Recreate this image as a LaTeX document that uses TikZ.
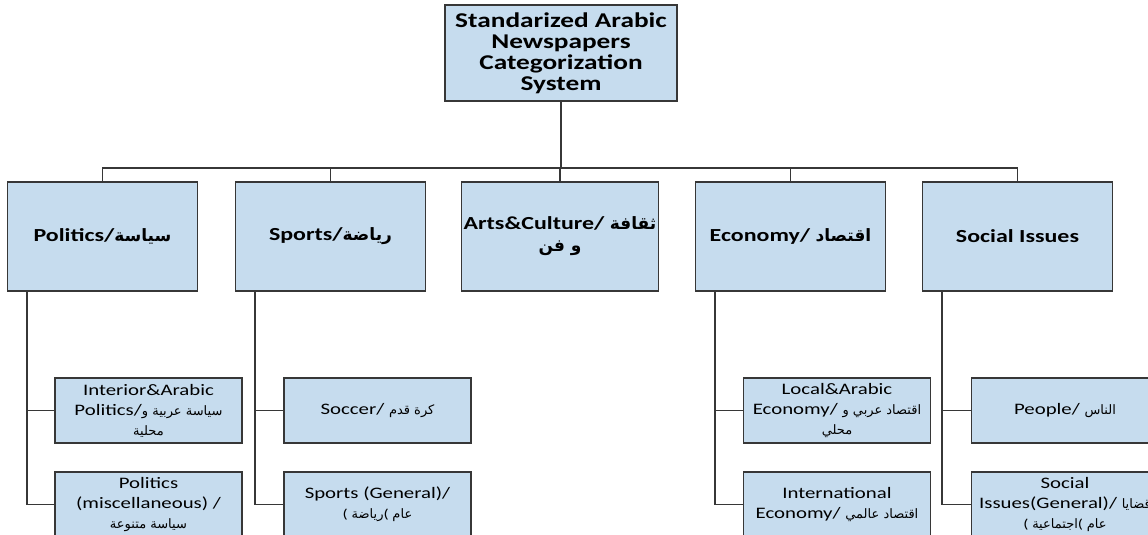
\documentclass[tikz,border=0pt]{standalone}
\usepackage{fontspec}
\setmainfont{Carlito}[FakeStretch=1.3]
\newfontfamily\arabicfont[Script=Arabic]{DejaVu Sans}
\TeXXeTstate=1
\newcommand{\arb}[2][6.5]{{\arabicfont\fontsize{#1}{10}\selectfont\beginR #2\endR}}
\definecolor{boxblue}{RGB}{198,220,238}
\definecolor{linegray}{RGB}{55,55,55}

\begin{document}
\begin{tikzpicture}[x=0.5pt,y=-0.5pt,
	box/.style={draw=linegray,line width=0.7pt,fill=boxblue,align=center,inner sep=1pt},
	rootbox/.style={box,minimum width=116pt,minimum height=48pt,font=\fontsize{10.5}{10.5}\selectfont\bfseries},
	catbox/.style={box,minimum width=95pt,minimum height=54.5pt,font=\fontsize{9.2}{10}\selectfont\bfseries},
	subbox/.style={box,minimum width=93.5pt,minimum height=32.5pt,font=\fontsize{8}{10}\selectfont},
	link/.style={draw=linegray,line width=0.75pt}]
					% Frame of the picture
					\useasboundingbox (0,0) rectangle (1148,535);
					\clip (0,0) rectangle (1148,535);
					% Root
					\node[rootbox] (root) at (561,53) {Standarized Arabic\\Newspapers\\Categorization\\System};
					% Main categories
					\node[catbox] (pol) at (102.5,236.5) {Politics/\arb[8.5]{سياسة}};
					\node[catbox] (spo) at (330.5,236.5) {Sports/\arb[8.5]{رياضة}};
					\node[catbox] (art) at (560,236.5) {Arts\&Culture/ \arb[8.5]{ثقافة}\\[1pt]\arb[8.5]{و فن}};
					\node[catbox] (eco) at (790.5,236.5) {Economy/ \arb[8.5]{اقتصاد}};
					\node[catbox] (soc) at (1017.5,236.5) {Social Issues};
					% Sub categories
					\node[subbox] (polA) at (148.5,410.5) {Interior\&Arabic\\Politics/\arb{سياسة عربية و}\\\arb{محلية}};
					\node[subbox] (polB) at (148.5,504.5) {Politics\\(miscellaneous) /\\\arb{سياسة متنوعة}};
					\node[subbox] (spoA) at (377.5,410.5) {Soccer/ \arb{كرة قدم}};
					\node[subbox] (spoB) at (377.5,504.5) {Sports (General)/\\{\fontsize{6.5}{8}\selectfont( \arb{رياضة}( \arb{عام}}};
					\node[subbox] (ecoA) at (837,410.5) {Local\&Arabic\\Economy/ \arb{اقتصاد عربي و}\\\arb{محلي}};
					\node[subbox] (ecoB) at (837,504.5) {International\\Economy/ \arb{اقتصاد عالمي}};
					\node[subbox] (socA) at (1065,410.5) {People/ \arb{الناس}};
					\node[subbox] (socB) at (1065,504.5) {Social\\Issues(General)/ \arb{قضايا}\\{\fontsize{6.5}{8}\selectfont( \arb{اجتماعية}( \arb{عام}}};
					% Connectors
					\coordinate (bus) at (561,168);
					\draw[link] (root) -- (bus);
					\foreach \c in {pol,spo,art,eco,soc} \draw[link] (bus) -| (\c.north);
					\foreach \c/\a/\b in {pol/polA/polB,spo/spoA/spoB,eco/ecoA/ecoB,soc/socA/socB}{
						\draw[link] ([xshift=10pt]\c.south west) |- (\a.west);
						\draw[link] ([xshift=10pt]\c.south west) |- (\b.west);}
				\end{tikzpicture}
\end{document}
